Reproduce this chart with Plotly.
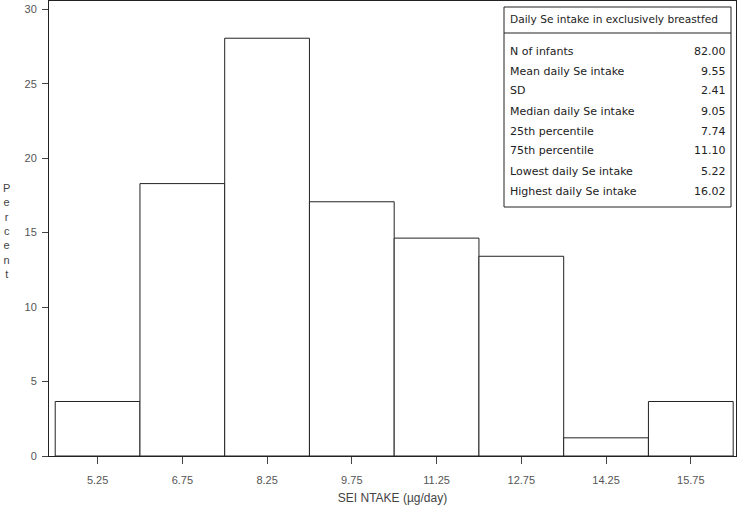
import plotly.graph_objects as go

# histogram bins (midpoints, ug/day) and percent of infants
bin_mids = [5.25, 6.75, 8.25, 9.75, 11.25, 12.75, 14.25, 15.75]
percent = [3.66, 18.29, 28.05, 17.07, 14.63, 13.41, 1.22, 3.66]
bin_width = 1.5

# summary table
table_title = "Daily Se intake in exclusively breastfed"
stat_names = ["N of infants", "Mean daily Se intake", "SD", "Median daily Se intake",
              "25th percentile", "75th percentile", "Lowest daily Se intake",
              "Highest daily Se intake"]
stat_values = ["82.00", "9.55", "2.41", "9.05", "7.74", "11.10", "5.22", "16.02"]

W, H = 740, 511
L, R, T, B = 49, 4, 1, 55
pw, ph = W - L - R, H - T - B


def px(x):
    return (x - L) / pw


def py(y):
    return 1 - (y - T) / ph


fig = go.Figure()
fig.add_trace(go.Bar(
    x=bin_mids, y=percent, width=bin_width,
    marker=dict(color="white", line=dict(color="#222", width=1)),
    hoverinfo="x+y"))

tick_font = dict(family="Liberation Sans, Arial, sans-serif", size=11, color="#555")
tab_font = dict(family="DejaVu Sans, sans-serif", size=11, color="#222")

fig.update_layout(
    width=W, height=H,
    margin=dict(l=L, r=R, t=T, b=B),
    plot_bgcolor="white", paper_bgcolor="white",
    showlegend=False,
    xaxis=dict(range=[4.39, 16.55], tickvals=bin_mids,
               ticktext=["%.2f" % v for v in bin_mids],
               ticks="outside", ticklen=7, tickcolor="#444",
               ticklabelstandoff=7, automargin=False,
               showline=True, mirror=True, linecolor="#222", linewidth=1,
               showgrid=False, zeroline=False, tickfont=tick_font,
               title=dict(text="SEI NTAKE (µg/day)", font=dict(
                   family="Liberation Sans, Arial, sans-serif", size=12, color="#444"),
                   standoff=8)),
    yaxis=dict(range=[0, 30.55], tickvals=[0, 5, 10, 15, 20, 25, 30],
               ticks="outside", ticklen=6, tickcolor="#444",
               ticklabelstandoff=3, automargin=False,
               showline=True, mirror=True, linecolor="#222", linewidth=1,
               showgrid=False, zeroline=False, tickfont=tick_font),
)

# vertical stacked y title
fig.add_annotation(text="<br>".join("Percent"), xref="paper", yref="paper",
                   x=px(6), y=py(231), showarrow=False, xanchor="center", yanchor="middle",
                   font=dict(family="Liberation Sans, Arial, sans-serif", size=11, color="#444"))

# summary box
fig.add_shape(type="rect", xref="paper", yref="paper",
              x0=px(504), x1=px(731), y0=py(207), y1=py(7),
              line=dict(color="#222", width=1), fillcolor="white")
fig.add_shape(type="line", xref="paper", yref="paper",
              x0=px(504), x1=px(731), y0=py(33), y1=py(33),
              line=dict(color="#222", width=1))
fig.add_annotation(text=table_title, xref="paper", yref="paper",
                   x=px(508), y=py(19), xanchor="left", yanchor="middle",
                   showarrow=False, font=dict(tab_font, size=10.6))
for i, (n, v) in enumerate(zip(stat_names, stat_values)):
    yy = py(51 + 20 * i)
    fig.add_annotation(text=n, xref="paper", yref="paper", x=px(508), y=yy,
                       xanchor="left", yanchor="middle", showarrow=False, font=tab_font)
    fig.add_annotation(text=v, xref="paper", yref="paper", x=px(728), y=yy,
                       xanchor="right", yanchor="middle", showarrow=False, font=tab_font)

fig.write_html("out.html", config={"displayModeBar": False},
               post_script="document.body.style.margin='0';")
